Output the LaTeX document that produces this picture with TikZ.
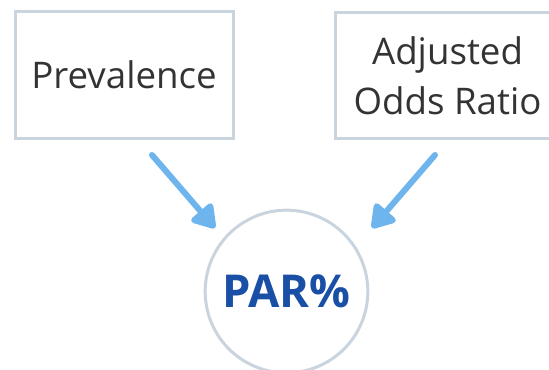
\documentclass[tikz,border=0pt]{standalone}
\usepackage{fontspec}
\setmainfont{Open Sans}
\usetikzlibrary{arrows.meta}
\definecolor{boxline}{HTML}{C9D4DF}
\definecolor{arrowblue}{HTML}{6DB5EC}
\definecolor{parblue}{HTML}{1A4FA6}
\definecolor{txtgray}{HTML}{333333}

\begin{document}
\begin{tikzpicture}[x=0.75pt,y=-0.75pt,
    factor/.style={draw=boxline, line width=2.25pt, fill=white, text=txtgray,
      font=\fontsize{27.5}{37.5}\selectfont, align=center, inner sep=0pt},
    result/.style={circle, draw=boxline, line width=2.25pt, fill=white,
      minimum size=122pt, inner sep=0pt, text=parblue,
      font=\fontsize{34}{40}\selectfont\bfseries},
    feed/.style={draw=arrowblue, line width=4.5pt, line cap=round,
      -{Triangle[length=19pt, width=23pt, round]}}]
  \useasboundingbox (0,0) rectangle (549,370);
  \clip (0,0) rectangle (549,370);

  \node[factor, minimum width=163.5pt, minimum height=95pt] (prev) at (124,75) {Prevalence};
  \node[factor, minimum width=168pt, minimum height=95pt] (aor) at (447.5,75.5) {Adjusted\\Odds Ratio};
  \node[result] (par) at (286.5,291.5) {PAR\%};

  % arrows into the circle
  \coordinate (s1) at (152,155);
  \coordinate (t1) at (215,228);
  \coordinate (s2) at (435,155);
  \coordinate (t2) at (372,228);
  \draw[feed] (s1) -- (t1);
  \draw[feed] (s2) -- (t2);
\end{tikzpicture}
\end{document}
